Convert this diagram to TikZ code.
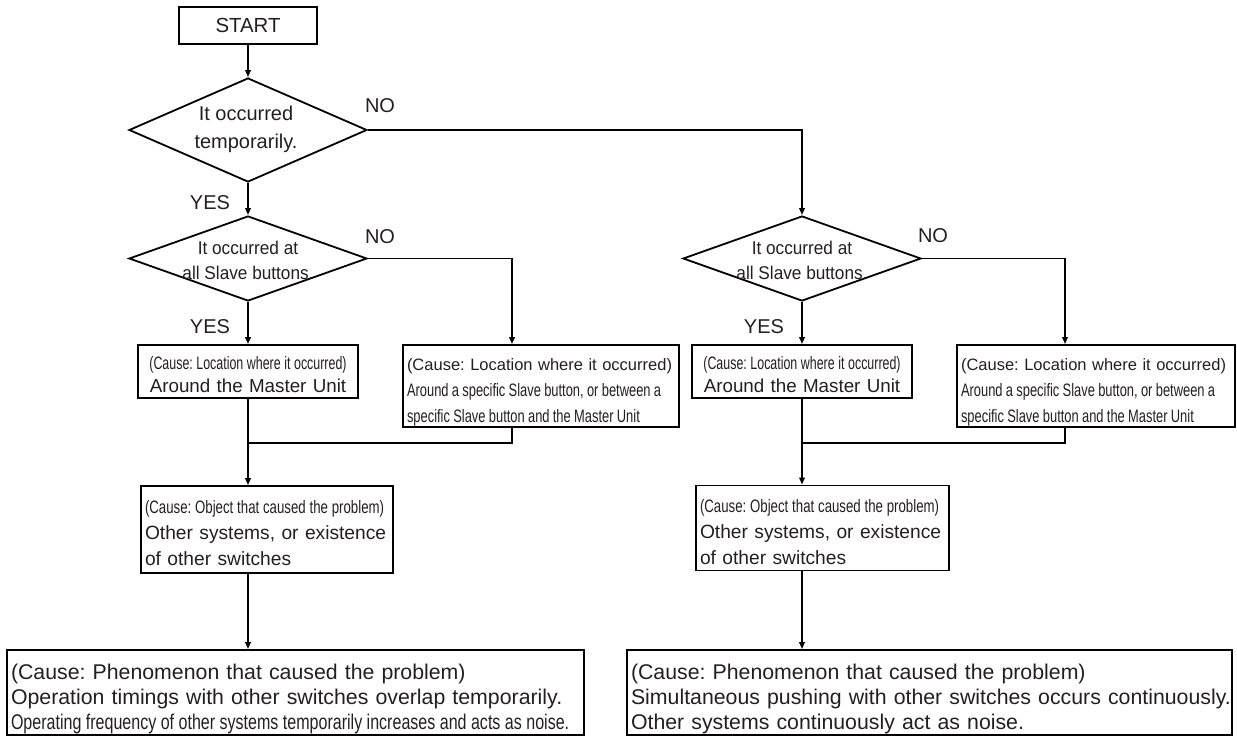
\documentclass[tikz,border=0pt]{standalone}
\usepackage{fontspec}
\setmainfont{Liberation Sans}
\newfontfamily\narrowAf[FakeStretch=0.69]{Liberation Sans}
\newfontfamily\narrowBf[FakeStretch=0.717]{Liberation Sans}
\newfontfamily\narrowCf[FakeStretch=0.735]{Liberation Sans}
\newfontfamily\narrowDf[FakeStretch=0.753]{Liberation Sans}
\newfontfamily\diafont[FakeStretch=0.93]{Liberation Sans}
\newcommand{\narrowA}{\narrowAf\spaceskip=0.19em\relax}
\newcommand{\narrowB}{\narrowBf\spaceskip=0.2em\relax}
\newcommand{\narrowC}{\narrowCf\spaceskip=0.2em\relax}
\newcommand{\narrowD}{\narrowDf\spaceskip=0.21em\relax}
\usetikzlibrary{shapes.geometric,arrows.meta}
\definecolor{ink}{RGB}{35,31,32}
\newcommand{\myfs}[2]{\fontsize{#1}{#2}\selectfont}
\newcommand{\topstrut}[1]{\rule{0pt}{#1}}
\frenchspacing
\begin{document}
\begin{tikzpicture}[x=1pt,y=-1pt,line width=1.8pt,
  box/.style={draw,rectangle,inner xsep=4pt,inner ysep=0pt,text=ink,align=left},
  dia/.style={draw,diamond,inner sep=0pt},
  dtext/.style={inner sep=0pt,align=center,text=ink},
  lbl/.style={inner sep=0pt,text=ink,font=\myfs{20}{24}},
  arr/.style={-{Triangle[length=7pt,width=5.5pt]}}]
\useasboundingbox (0,0) rectangle (1237,736);

% start
\node[box,align=center,text width=130pt,minimum height=37pt,font=\myfs{20.4}{24}] (start) at (248,25.5) {START};

% decisions
\node[dia,minimum width=238pt,minimum height=104pt] (d1) at (248,130) {};
\node[dtext,font=\myfs{20}{28}] (d1t) at (246,129) {It occurred\\temporarily.};
\node[dia,minimum width=238pt,minimum height=85pt] (d2) at (248,258.5) {};
\node[dtext,font=\diafont\myfs{18.5}{25}] (d2t) at (248,260) {It occurred at\\all Slave buttons.};
\node[dia,minimum width=238pt,minimum height=85pt] (d3) at (802,258.5) {};
\node[dtext,font=\diafont\myfs{18.5}{25}] (d3t) at (802,260) {It occurred at\\all Slave buttons.};

% labels
\node[lbl] (no1) at (380,106) {NO};
\node[lbl] (yes1) at (210,203) {YES};
\node[lbl] (no2) at (380,237) {NO};
\node[lbl] (yes2) at (210,327) {YES};
\node[lbl] (no3) at (933,236) {NO};
\node[lbl] (yes3) at (764,327) {YES};

% location boxes
\node[box,align=center,text width=212pt,minimum height=53pt,font=\myfs{18.8}{23}] (a1) at (248,371.5)
  {\mbox{\topstrut{19pt}\narrowA\myfs{18}{23}(Cause: Location where it occurred)}\\\mbox{Around the Master Unit}};
\node[box,text width=268pt,minimum height=82pt,font=\myfs{16.5}{26}] (b1) at (541,386)
  {\mbox{\topstrut{24pt}(Cause: Location where it occurred)}\\\mbox{\narrowB\myfs{18}{26}Around a specific Slave button, or between a}\\\mbox{\narrowB\myfs{18}{26}specific Slave button and the Master Unit}};
\node[box,align=center,text width=212pt,minimum height=53pt,font=\myfs{18.8}{23}] (a2) at (802,371.5)
  {\mbox{\topstrut{19pt}\narrowA\myfs{18}{23}(Cause: Location where it occurred)}\\\mbox{Around the Master Unit}};
\node[box,text width=270pt,minimum height=82pt,font=\myfs{16.5}{26}] (b2) at (1096,386)
  {\mbox{\topstrut{24pt}(Cause: Location where it occurred)}\\\mbox{\narrowB\myfs{18}{26}Around a specific Slave button, or between a}\\\mbox{\narrowB\myfs{18}{26}specific Slave button and the Master Unit}};

% object boxes
\node[box,text width=244pt,minimum height=87pt,font=\myfs{19.2}{26}] (c1) at (267,529.5)
  {\mbox{\topstrut{21pt}\narrowC\myfs{18}{26}(Cause: Object that caused the problem)}\\\mbox{Other systems, or existence}\\\mbox{of other switches}};
\node[box,text width=245pt,minimum height=85pt,font=\myfs{19.2}{26}] (c2) at (822.5,528)
  {\mbox{\topstrut{21pt}\narrowC\myfs{18}{26}(Cause: Object that caused the problem)}\\\mbox{Other systems, or existence}\\\mbox{of other switches}};

% phenomenon boxes
\node[box,text width=569pt,minimum height=85pt,font=\myfs{21.3}{25}] (e1) at (295.5,692.5)
  {\mbox{\topstrut{27.5pt}(Cause: Phenomenon that caused the problem)}\\\mbox{Operation timings with other switches overlap temporarily.}\\\mbox{\narrowD Operating frequency of other systems temporarily increases and acts as noise.}};
\node[box,text width=597pt,minimum height=85pt,font=\myfs{21.3}{25}] (e2) at (929.5,692.5)
  {\mbox{\topstrut{27.5pt}(Cause: Phenomenon that caused the problem)}\\\mbox{Simultaneous pushing with other switches occurs continuously.}\\\mbox{Other systems continuously act as noise.}};

% join points
\coordinate (j1) at (248,443);
\coordinate (j2) at (802,443);

% connectors
\draw[arr] (start.south) -- (d1.north);
\draw[arr] (d1.east) -| (d3.north);
\draw[arr] (d1.south) -- (d2.north);
\draw[arr] (d2.east) -| ([xshift=-29pt]b1.north);
\draw[arr] (d2.south) -- (a1.north);
\draw[arr] (d3.east) -| ([xshift=-31pt]b2.north);
\draw[arr] (d3.south) -- (a2.north);
\draw ([xshift=-29pt]b1.south) |- (j1);
\draw ([xshift=-31pt]b2.south) |- (j2);
\draw[arr] (a1.south) -- (a1.south |- c1.north);
\draw[arr] (a2.south) -- (a2.south |- c2.north);
\draw[arr] (a1.south |- c1.south) -- (a1.south |- e1.north);
\draw[arr] (a2.south |- c2.south) -- (a2.south |- e2.north);
\end{tikzpicture}
\end{document}
